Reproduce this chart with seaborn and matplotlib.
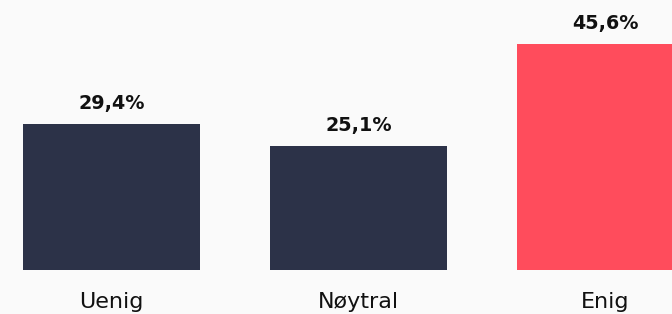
import pandas as pd
import seaborn as sns
import matplotlib.pyplot as plt

# Data
kategorier = ["Uenig", "Nøytral", "Enig"]
andel = [29.4, 25.1, 45.6]
farger = ["#2C3248", "#2C3248", "#FF4C5C"]

df = pd.DataFrame({"svar": kategorier, "andel": andel})

sns.set_style("white")
plt.rcParams['font.family'] = ['DejaVu Sans']

fig = plt.figure(figsize=(6.72, 3.14), dpi=100, facecolor="#FAFAFA")
ax = fig.add_axes([0, 44 / 314, 1, 270 / 314])
ax.set_facecolor("#FAFAFA")

sns.barplot(data=df, x="svar", y="andel", hue="svar", palette=farger,
            width=0.717, legend=False, ax=ax, saturation=1, linewidth=0)

# Verdier over stolpene
for i, v in enumerate(andel):
    ax.annotate(f"{v:.1f}%".replace(".", ","), (i, v), xytext=(0, 8),
                textcoords="offset points", ha="center", va="bottom",
                fontsize=13.8, fontweight="bold", color="#111111")

ax.set_xlim(-0.4514, 2.2692)
ax.set_ylim(0, 54.5)
ax.set_xlabel("")
ax.set_ylabel("")
ax.set_yticks([])
ax.tick_params(axis="x", length=0, pad=15.5, labelsize=16, colors="#111111")
sns.despine(ax=ax, left=True, bottom=True)

fig.savefig("out.png", dpi=100, facecolor=fig.get_facecolor())
